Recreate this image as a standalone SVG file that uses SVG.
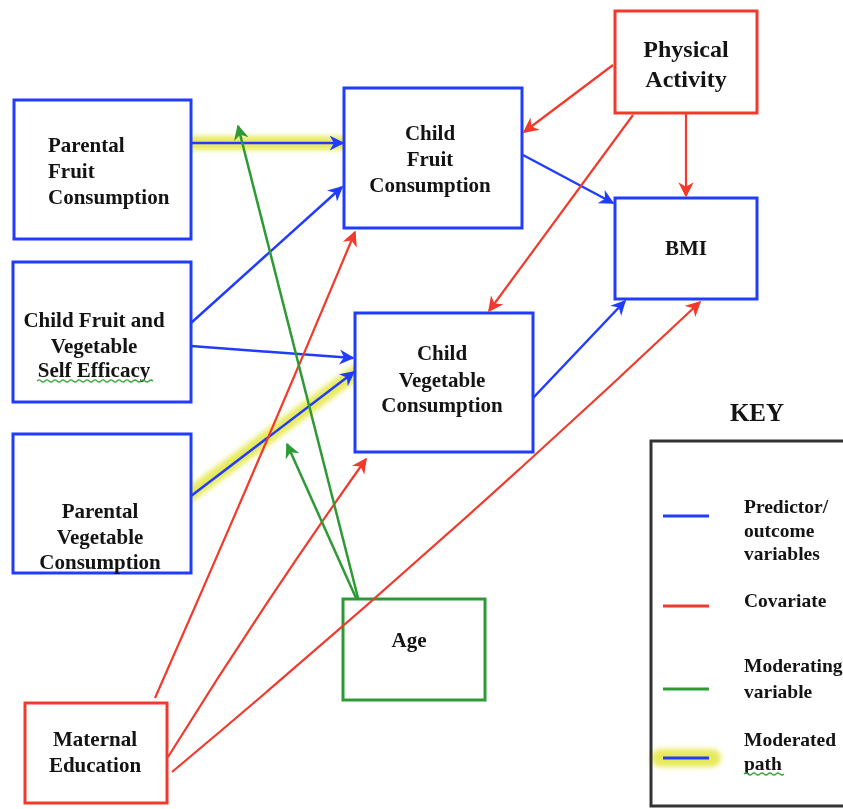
<svg xmlns="http://www.w3.org/2000/svg" width="843" height="809" viewBox="0 0 843 809">
<defs>
<style>
.t{font-family:"Liberation Serif","Times New Roman",serif;font-weight:bold;font-size:21px;fill:#141414}
.k{font-family:"Liberation Serif","Times New Roman",serif;font-weight:bold;font-size:19.5px;fill:#141414}
.m{text-anchor:middle}
.nb{fill:#fff;stroke:#1f3cff;stroke-width:3}
.nr{fill:#fff;stroke:#f23a2c;stroke-width:3}
.ng{fill:#fff;stroke:#2e9a36;stroke-width:3}
.b{stroke:#1f3cff;stroke-width:2.5;fill:none}
.r{stroke:#f23a2c;stroke-width:2.2;fill:none}
.g{stroke:#2e9a36;stroke-width:2.5;fill:none}
.hl{stroke:#e6e84a;stroke-width:14;stroke-linecap:round;fill:none;opacity:0.9}
.sq{stroke:#3aa53a;stroke-width:1.2;fill:none}
</style>
<filter id="blur" x="-20%" y="-60%" width="140%" height="220%"><feGaussianBlur stdDeviation="2.5"/></filter>
<marker id="ab" viewBox="0 0 10 10" refX="9" refY="5" markerWidth="6" markerHeight="6" orient="auto" markerUnits="strokeWidth"><path d="M0,0 L10,5 L0,10 L3,5 z" fill="#1f3cff"/></marker>
<marker id="ar" viewBox="0 0 10 10" refX="9" refY="5" markerWidth="7" markerHeight="7" orient="auto" markerUnits="strokeWidth"><path d="M0,0 L10,5 L0,10 L3,5 z" fill="#f23a2c"/></marker>
<marker id="ag" viewBox="0 0 10 10" refX="9" refY="5" markerWidth="6" markerHeight="6" orient="auto" markerUnits="strokeWidth"><path d="M0,0 L10,5 L0,10 L3,5 z" fill="#2e9a36"/></marker>
</defs>
<rect width="843" height="809" fill="#fff"/>

<g id="highlights" filter="url(#blur)">
<line class="hl" x1="186" y1="143" x2="350" y2="143"/>
<line class="hl" x1="188" y1="496" x2="356" y2="372"/>
<line class="hl" x1="660" y1="758" x2="712" y2="758" style="stroke-width:18"/>
</g>

<g id="nodes">
<g id="parental-fruit"><rect class="nb" x="14" y="100" width="177" height="139"/>
<text class="t" x="48" y="152">Parental</text><text class="t" x="48" y="178">Fruit</text><text class="t" x="48" y="204">Consumption</text></g>
<g id="child-fruit"><rect class="nb" x="344" y="88" width="178" height="140"/>
<text class="t m" x="430" y="140">Child</text><text class="t m" x="430" y="166">Fruit</text><text class="t m" x="430" y="192">Consumption</text></g>
<g id="physical-activity"><rect class="nr" x="615" y="11" width="142" height="102"/>
<text class="t m" x="686" y="57" style="font-size:24px">Physical</text><text class="t m" x="686" y="87" style="font-size:24px">Activity</text></g>
<g id="bmi"><rect class="nb" x="615" y="198" width="142" height="101"/>
<text class="t m" x="686" y="255">BMI</text></g>
<g id="self-efficacy"><rect class="nb" x="13" y="262" width="178" height="140"/>
<text class="t m" x="94" y="327">Child Fruit and</text><text class="t m" x="94" y="353">Vegetable</text><text class="t m" x="94" y="377">Self Efficacy</text>
<path class="sq" d="M37,381 q2,-2 4,0 t4,0 t4,0 t4,0 t4,0 t4,0 t4,0 t4,0 t4,0 t4,0 t4,0 t4,0 t4,0 t4,0 t4,0 t4,0 t4,0 t4,0 t4,0 t4,0 t4,0 t4,0 t4,0 t4,0 t4,0 t4,0 t4,0 t4,0 t4,0"/></g>
<g id="parental-veg"><rect class="nb" x="13" y="434" width="178" height="139"/>
<text class="t m" x="100" y="518">Parental</text><text class="t m" x="100" y="544">Vegetable</text><text class="t m" x="100" y="569">Consumption</text></g>
<g id="child-veg"><rect class="nb" x="355" y="313" width="178" height="139"/>
<text class="t m" x="442" y="360">Child</text><text class="t m" x="442" y="387">Vegetable</text><text class="t m" x="442" y="412">Consumption</text></g>
<g id="age"><rect class="ng" x="343" y="599" width="142" height="101"/>
<text class="t m" x="409" y="647">Age</text></g>
<g id="maternal-education"><rect class="nr" x="25" y="703" width="142" height="100"/>
<text class="t m" x="95" y="746">Maternal</text><text class="t m" x="95" y="772">Education</text></g>
</g>

<g id="connectors">
<line class="b" x1="191" y1="143" x2="343" y2="143" marker-end="url(#ab)"/>
<line class="b" x1="191" y1="323" x2="342" y2="187" marker-end="url(#ab)"/>
<line class="b" x1="191" y1="346" x2="353" y2="358" marker-end="url(#ab)"/>
<line class="b" x1="191" y1="496" x2="354" y2="372" marker-end="url(#ab)"/>
<line class="b" x1="523" y1="155" x2="613" y2="203" marker-end="url(#ab)"/>
<line class="b" x1="533" y1="398" x2="625" y2="301" marker-end="url(#ab)"/>
<line class="r" x1="613" y1="65" x2="524" y2="132" marker-end="url(#ar)"/>
<line class="r" x1="633" y1="115" x2="489" y2="311" marker-end="url(#ar)"/>
<line class="r" x1="686" y1="113" x2="686" y2="196" marker-end="url(#ar)"/>
<path class="r" d="M155,698 Q259,462 355,232" marker-end="url(#ar)"/>
<path class="r" d="M168,757 Q263,604 366,459" marker-end="url(#ar)"/>
<path class="r" d="M172,772 Q442,546 700,302" marker-end="url(#ar)"/>
<line class="g" x1="358" y1="598" x2="238" y2="126" marker-end="url(#ag)"/>
<line class="g" x1="356" y1="598" x2="287" y2="444" marker-end="url(#ag)"/>
</g>

<g id="key">
<text class="t m" x="757" y="421" style="font-size:25px">KEY</text>
<rect x="651" y="441" width="200" height="365" fill="none" stroke="#333" stroke-width="3"/>
<line x1="663" y1="516" x2="709" y2="516" stroke="#1f3cff" stroke-width="3"/>
<line x1="663" y1="606" x2="709" y2="606" stroke="#f23a2c" stroke-width="3"/>
<line x1="663" y1="689" x2="709" y2="689" stroke="#2e9a36" stroke-width="3"/>
<line x1="663" y1="758" x2="709" y2="758" stroke="#1f3cff" stroke-width="3"/>
<text class="k" x="744" y="513">Predictor/</text>
<text class="k" x="744" y="537">outcome</text>
<text class="k" x="744" y="560">variables</text>
<text class="k" x="744" y="607">Covariate</text>
<text class="k" x="744" y="672">Moderating</text>
<text class="k" x="744" y="698">variable</text>
<text class="k" x="744" y="746">Moderated</text>
<text class="k" x="744" y="770">path</text>
<path class="sq" d="M744,774 q2,-2 4,0 t4,0 t4,0 t4,0 t4,0 t4,0 t4,0 t4,0 t4,0 t4,0"/>
</g>
</svg>
